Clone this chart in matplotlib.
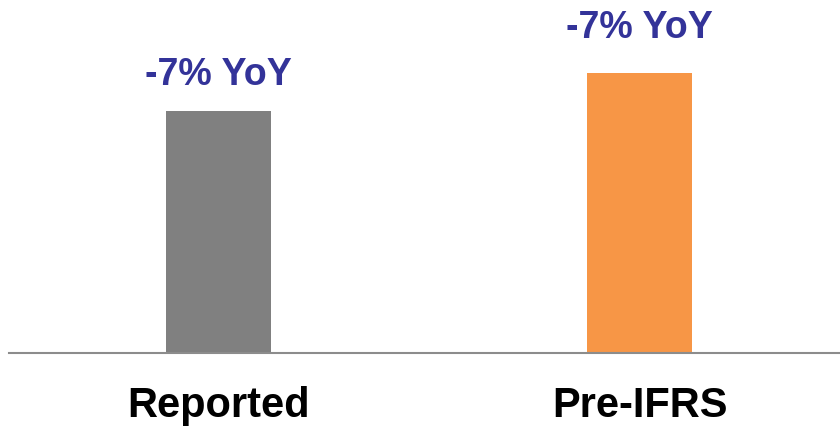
import matplotlib
matplotlib.use("Agg")
import matplotlib.pyplot as plt

categories = ["Reported", "Pre-IFRS"]
values = [242, 280]
labels = ["-7% YoY", "-7% YoY"]
colors = ["#808080", "#F79646"]
label_gap_px = [27, 36]

plt.rcParams['font.family'] = ['Liberation Sans', 'DejaVu Sans']

W, H, DPI = 840, 427, 100
fig = plt.figure(figsize=(W / DPI, H / DPI), dpi=DPI)
ax_left, ax_right, ax_bottom, ax_top = 9, 840, 354, 0
ax = fig.add_axes([ax_left / W, 1 - ax_bottom / H, (ax_right - ax_left) / W, (ax_bottom - ax_top) / H])

x = list(range(len(categories)))
ax.bar(x, values, width=0.249, color=colors, zorder=2)
ax.set_xlim(-0.4976, 1.476)
ax.set_ylim(0, 354)

for i, (v, lab, g) in enumerate(zip(values, labels, label_gap_px)):
    ax.annotate(lab, xy=(i, v), xytext=(0, g * 72 / DPI), textcoords='offset points',
                ha='center', va='baseline', fontsize=27, fontweight='bold', color='#333399')
    ax.annotate(categories[i], xy=(i, 0), xycoords=('data', 'axes fraction'),
                xytext=(0, -63 * 72 / DPI), textcoords='offset points',
                ha='center', va='baseline', fontsize=30, fontweight='bold', color='black',
                annotation_clip=False)

for s in ['top', 'right', 'left']:
    ax.spines[s].set_visible(False)
ax.spines['bottom'].set_color('#8c8c8c')
ax.spines['bottom'].set_linewidth(1.5)
ax.set_xticks([])
ax.set_yticks([])

fig.savefig("out.png", dpi=DPI)
